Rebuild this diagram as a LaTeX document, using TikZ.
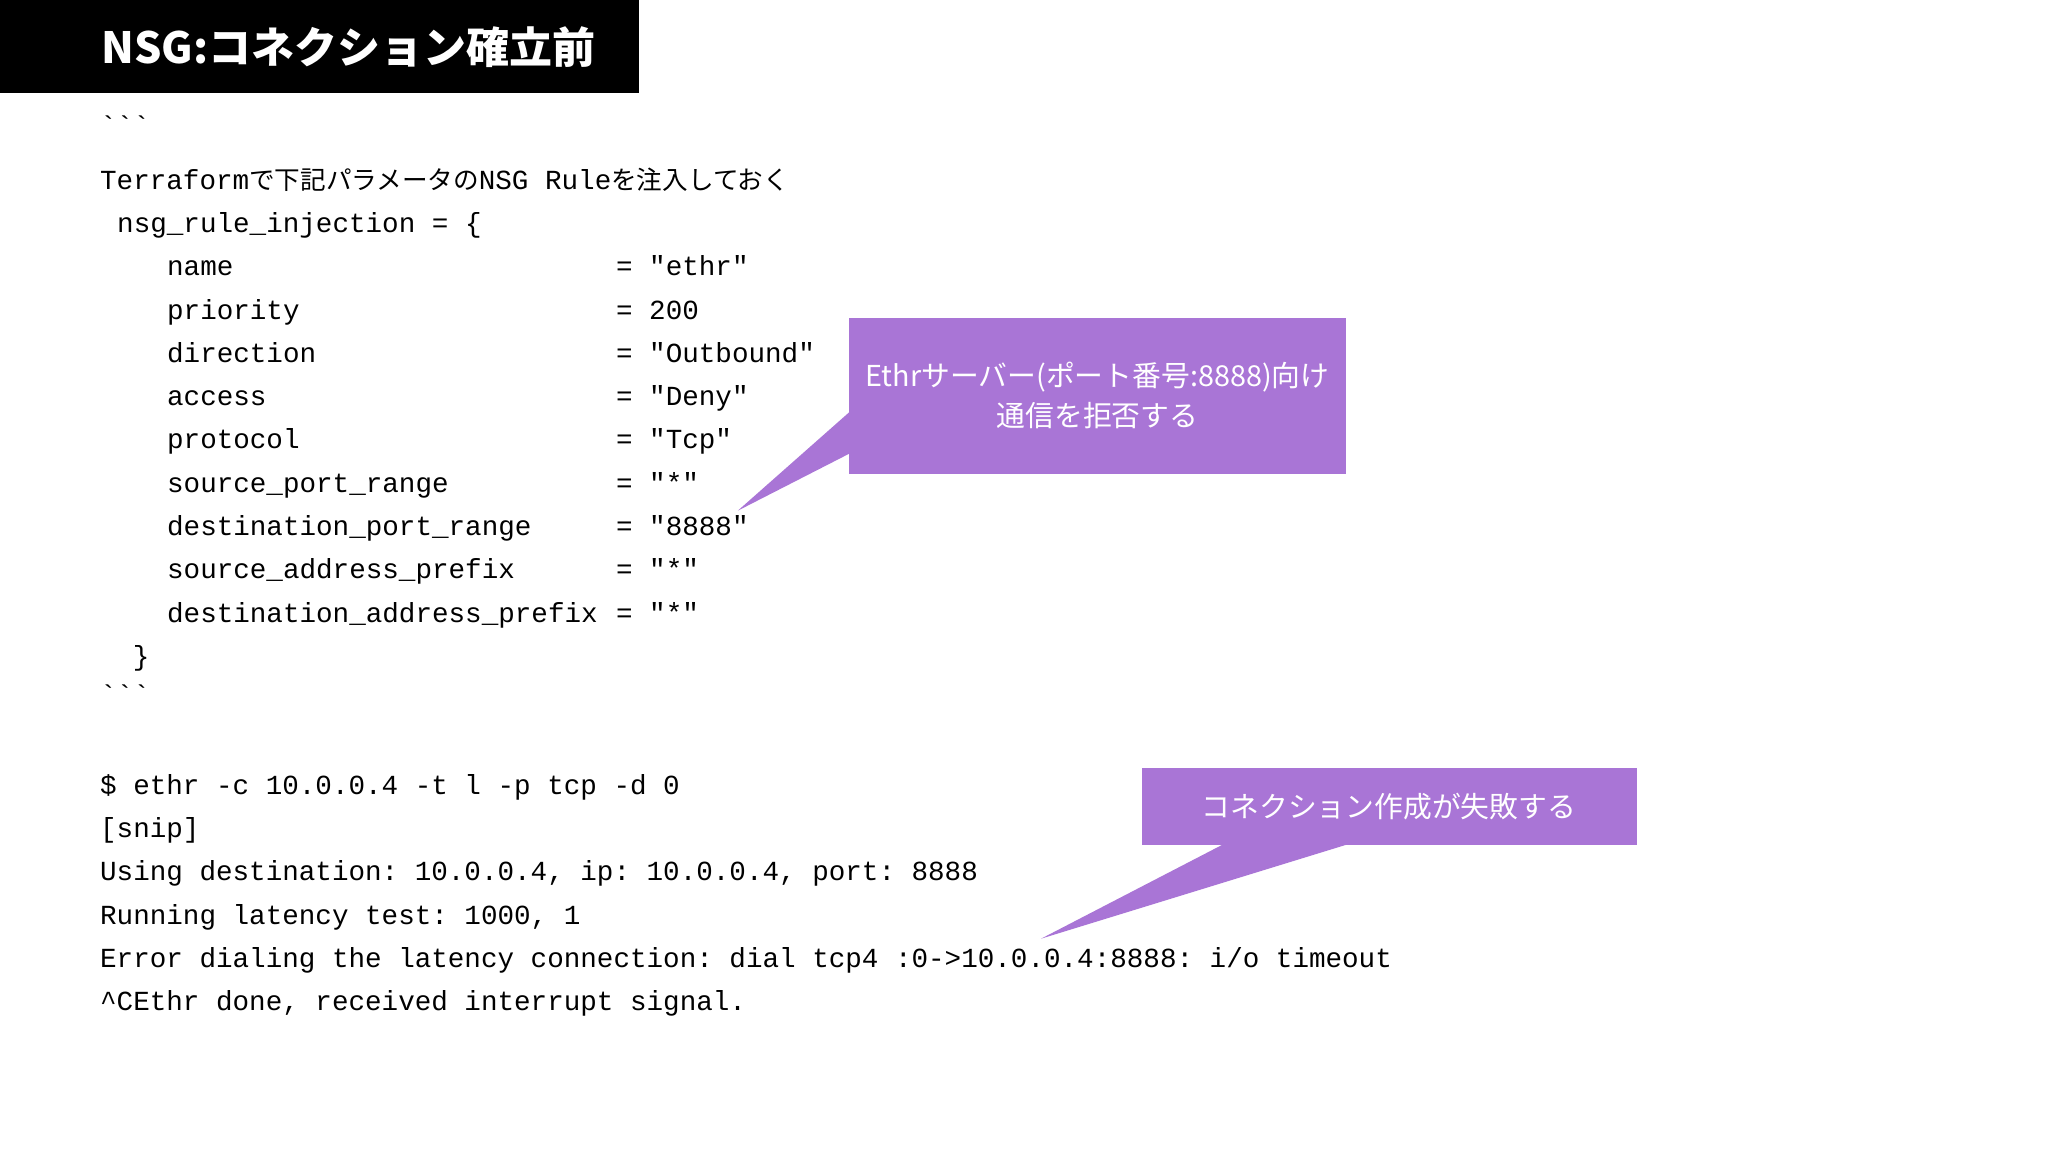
\documentclass[tikz,border=0pt]{standalone}
\usepackage{fontspec}
\setmainfont{Noto Sans CJK JP}
\setmonofont{Liberation Mono}
\newfontfamily\cjk{Noto Sans CJK JP}
\begin{document}
\begin{tikzpicture}[x=0.6564pt,y=-0.6564pt,
  code/.style={anchor=base west,inner sep=0pt,font=\ttfamily\fontsize{13.8}{18}\selectfont},
  call/.style={fill=callc,draw=none},
  calltext/.style={text=white,align=center,font=\cjk\fontsize{14.4}{20}\selectfont}]
\definecolor{callc}{HTML}{A975D6}
\useasboundingbox (0,0) rectangle (1560,877.5);
\fill[white] (0,0) rectangle (1560,877.5);
\fill[black] (0,0) rectangle (487,71);
\node[anchor=west,text=white,font=\cjk\bfseries\fontsize{21.5}{26}\selectfont] (title) at (72,36) {NSG:コネクション確立前};
\newcommand{\J}[1]{{\cjk\fontsize{12.8}{18}\selectfont #1}}
\node[code] (t0) at (76,103) {```};
\node[code] (t1) at (76,144) {Terraform\J{で下記パラメータの}NSG Rule\J{を注入しておく}};
\node[code] (t2) at (89,177) {nsg\_rule\_injection = \{};
\foreach \k/\v [count=\i] in {name/"ethr",priority/200,direction/"Outbound",access/"Deny",protocol/"Tcp",source\_port\_range/"*",destination\_port\_range/"8888",source\_address\_prefix/"*",destination\_address\_prefix/"*"}{
  \node[code] (k\i) at (127,{177+33*\i}) {\k};
  \node[code] (v\i) at (469,{177+33*\i}) {= \v};
}
\node[code] (t3) at (101,507) {\}};
\node[code] (t4) at (76,537) {```};
\node[code] (c1) at (76,605) {\$ ethr -c 10.0.0.4 -t l -p tcp -d 0};
\node[code] (c2) at (76,638) {[snip]};
\node[code] (c3) at (76,671) {Using destination: 10.0.0.4, ip: 10.0.0.4, port: 8888};
\node[code] (c4) at (76,704) {Running latency test: 1000, 1};
\node[code] (c5) at (76,737) {Error dialing the latency connection: dial tcp4 :0->10.0.0.4:8888: i/o timeout};
\node[code] (c6) at (76,770) {\^{}CEthr done, received interrupt signal.};
% callout 1
\fill[callc] (647,242) rectangle (1025,361);
\fill[callc] (648,313) -- (648,345) -- (562,389) -- cycle;
\node[calltext] (b1) at (836,301) {Ethrサーバー(ポート番号:8888)向け\\通信を拒否する};
% callout 2
\fill[callc] (870,585) rectangle (1247,644);
\fill[callc] (932,643) -- (1027,643) -- (793,715) -- cycle;
\node[calltext] (b2) at (1058,614) {コネクション作成が失敗する};
\end{tikzpicture}
\end{document}
